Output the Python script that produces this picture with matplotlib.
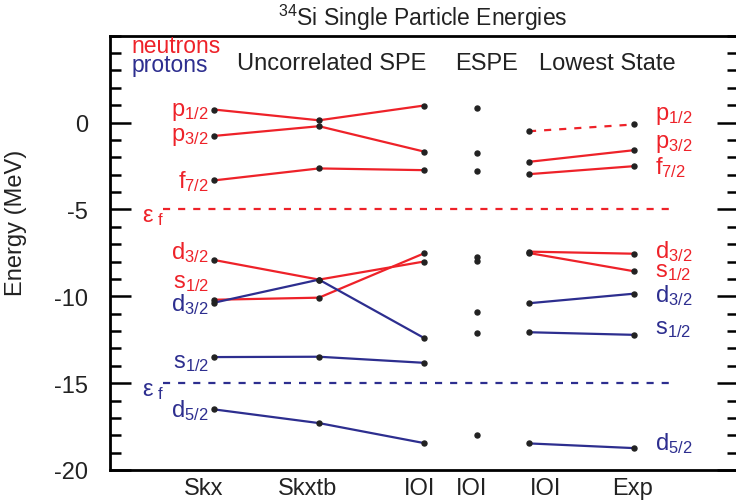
import matplotlib
matplotlib.use("Agg")
import matplotlib.pyplot as plt

plt.rcParams['font.family'] = ['Liberation Sans', 'DejaVu Sans']
plt.rcParams['mathtext.fontset'] = 'custom'
plt.rcParams['mathtext.rm'] = 'Liberation Sans'
plt.rcParams['mathtext.it'] = 'Liberation Sans:italic'
plt.rcParams['mathtext.bf'] = 'Liberation Sans:bold'

RED = '#ee2229'
BLUE = '#2d2e8f'

# x positions / tick labels
x_pos = [1, 2, 3, 3.5, 4, 5]
x_labels = ['Skx', 'Skxtb', 'IOI', 'IOI', 'IOI', 'Exp']
x_label_pos = [0.90, 1.89, 2.955, 3.45, 4.155, 4.99]
x_spe = [1, 2, 3]
x_espe = 3.5
x_low = [4, 5]

# Uncorrelated SPE (Skx, Skxtb, IOI)
n_p12 = [0.75, 0.13, 0.98]
n_p32 = [-0.77, -0.21, -1.67]
n_f72 = [-3.33, -2.64, -2.74]
n_d32 = [-7.91, -9.04, -8.00]
n_s12 = [-10.20, -10.08, -7.53]
p_d32 = [-10.37, -9.04, -12.40]
p_s12 = [-13.50, -13.48, -13.83]
p_d52 = [-16.51, -17.30, -18.45]

# ESPE (IOI)
espe = [0.86, -1.76, -2.80, -7.72, -7.97, -10.90, -12.10, -18.00]

# Lowest state (IOI, Exp)
ln_p12 = [-0.50, -0.11]
ln_p32 = [-2.26, -1.59]
ln_f72 = [-2.97, -2.51]
ln_d32 = [-7.43, -7.55]
ln_s12 = [-7.51, -8.56]
lp_d32 = [-10.40, -9.85]
lp_s12 = [-12.07, -12.22]
lp_d52 = [-18.47, -18.74]

# Fermi energies
ef_n = -5.0
ef_p = -15.0

fig = plt.figure(figsize=(7.36, 5.02), dpi=100)
ax = fig.add_axes([110/736, 1-471/502, (738-110)/736, (471-36.7)/502])

lw = 1.6
ms = 3.6
dash = (0, (3.2, 3.6))
def series(xs, ys, color, ls='-'):
    ax.plot(xs, ys, color=color, lw=lw, ls=ls, zorder=2)
    ax.plot(xs, ys, 'o', color='#222222', ms=ms, zorder=3)

for ys in [n_p12, n_p32, n_f72, n_d32, n_s12]:
    series(x_spe, ys, RED)
for ys in [p_d32, p_s12, p_d52]:
    series(x_spe, ys, BLUE)
series(x_low, ln_p12, RED, ls=dash)
for ys in [ln_p32, ln_f72, ln_d32, ln_s12]:
    series(x_low, ys, RED)
for ys in [lp_d32, lp_s12, lp_d52]:
    series(x_low, ys, BLUE)
ax.plot([x_espe]*len(espe), espe, 'o', color='#222222', ms=ms, zorder=3)

ax.plot([0.515, 5.36], [ef_n, ef_n], color=RED, lw=lw, ls=dash)
ax.plot([0.515, 5.36], [ef_p, ef_p], color=BLUE, lw=lw, ls=dash)

fs = 17
# level labels left
left_labels = [
    (r'$\mathrm{p}_{1/2}$', 0.69, RED), (r'$\mathrm{p}_{3/2}$', -0.80, RED),
    (r'$\mathrm{f}_{7/2}$', -3.33, RED), (r'$\mathrm{d}_{3/2}$', -7.43, RED),
    (r'$\mathrm{s}_{1/2}$', -9.15, RED), (r'$\mathrm{d}_{3/2}$', -10.40, BLUE),
    (r'$\mathrm{s}_{1/2}$', -13.80, BLUE), (r'$\mathrm{d}_{5/2}$', -16.50, BLUE),
]
for t, y, c in left_labels:
    ax.text(0.95, y, t, color=c, fontsize=fs, ha='right', va='center')
right_labels = [
    (r'$\mathrm{p}_{1/2}$', 0.46, RED), (r'$\mathrm{p}_{3/2}$', -1.15, RED),
    (r'$\mathrm{f}_{7/2}$', -2.56, RED), (r'$\mathrm{d}_{3/2}$', -7.38, RED),
    (r'$\mathrm{s}_{1/2}$', -8.52, RED), (r'$\mathrm{d}_{3/2}$', -9.91, BLUE),
    (r'$\mathrm{s}_{1/2}$', -11.80, BLUE), (r'$\mathrm{d}_{5/2}$', -18.40, BLUE),
]
for t, y, c in right_labels:
    ax.text(5.2, y, t, color=c, fontsize=fs, ha='left', va='center')
ax.text(0.31, -5.4, r'$\mathrm{\epsilon}_{\ \mathrm{f}}$', color=RED, fontsize=fs, ha='left', va='center')
ax.text(0.31, -15.4, r'$\mathrm{\epsilon}_{\ \mathrm{f}}$', color=BLUE, fontsize=fs, ha='left', va='center')

# headers
hc = '#222222'
ax.text(0.215, 4.45, 'neutrons', color=RED, fontsize=16.5, ha='left', va='center')
ax.text(0.215, 3.36, 'protons', color=BLUE, fontsize=16.5, ha='left', va='center')
ax.text(1.22, 3.45, 'Uncorrelated SPE', color=hc, fontsize=fs, ha='left', va='center')
ax.text(3.6, 3.45, 'ESPE', color=hc, fontsize=fs, ha='center', va='center')
ax.text(4.75, 3.45, 'Lowest State', color=hc, fontsize=fs, ha='center', va='center')

ax.set_xlim(0.01, 5.99)
ax.set_ylim(-20, 5)
ax.set_xticks(x_label_pos)
ax.set_xticklabels(x_labels, fontsize=fs, color=hc)
ax.tick_params(axis='x', length=0, pad=5)
ax.set_yticks([-20, -15, -10, -5, 0])
ax.set_yticklabels(['-20', '-15', '-10', '-5', '0'], fontsize=fs, color=hc)
ax.set_yticks(range(-20, 6), minor=True)
ax.tick_params(axis='y', which='major', direction='in', length=15, width=1.8, left=True, right=True, pad=16)
ax.tick_params(axis='y', which='minor', direction='in', length=8, width=1.8, left=True, right=True)
for s in ax.spines.values():
    s.set_linewidth(2)
fig.text(16/736, 1-223/502, 'Energy (MeV)', fontsize=17, color=hc, rotation=90, ha='center', va='center')
fig.text(423/736, 1-18/502, r'$^{34}$Si Single Particle Energies', fontsize=16.5, color=hc, ha='center', va='center')

fig.savefig('out.png', dpi=100)
